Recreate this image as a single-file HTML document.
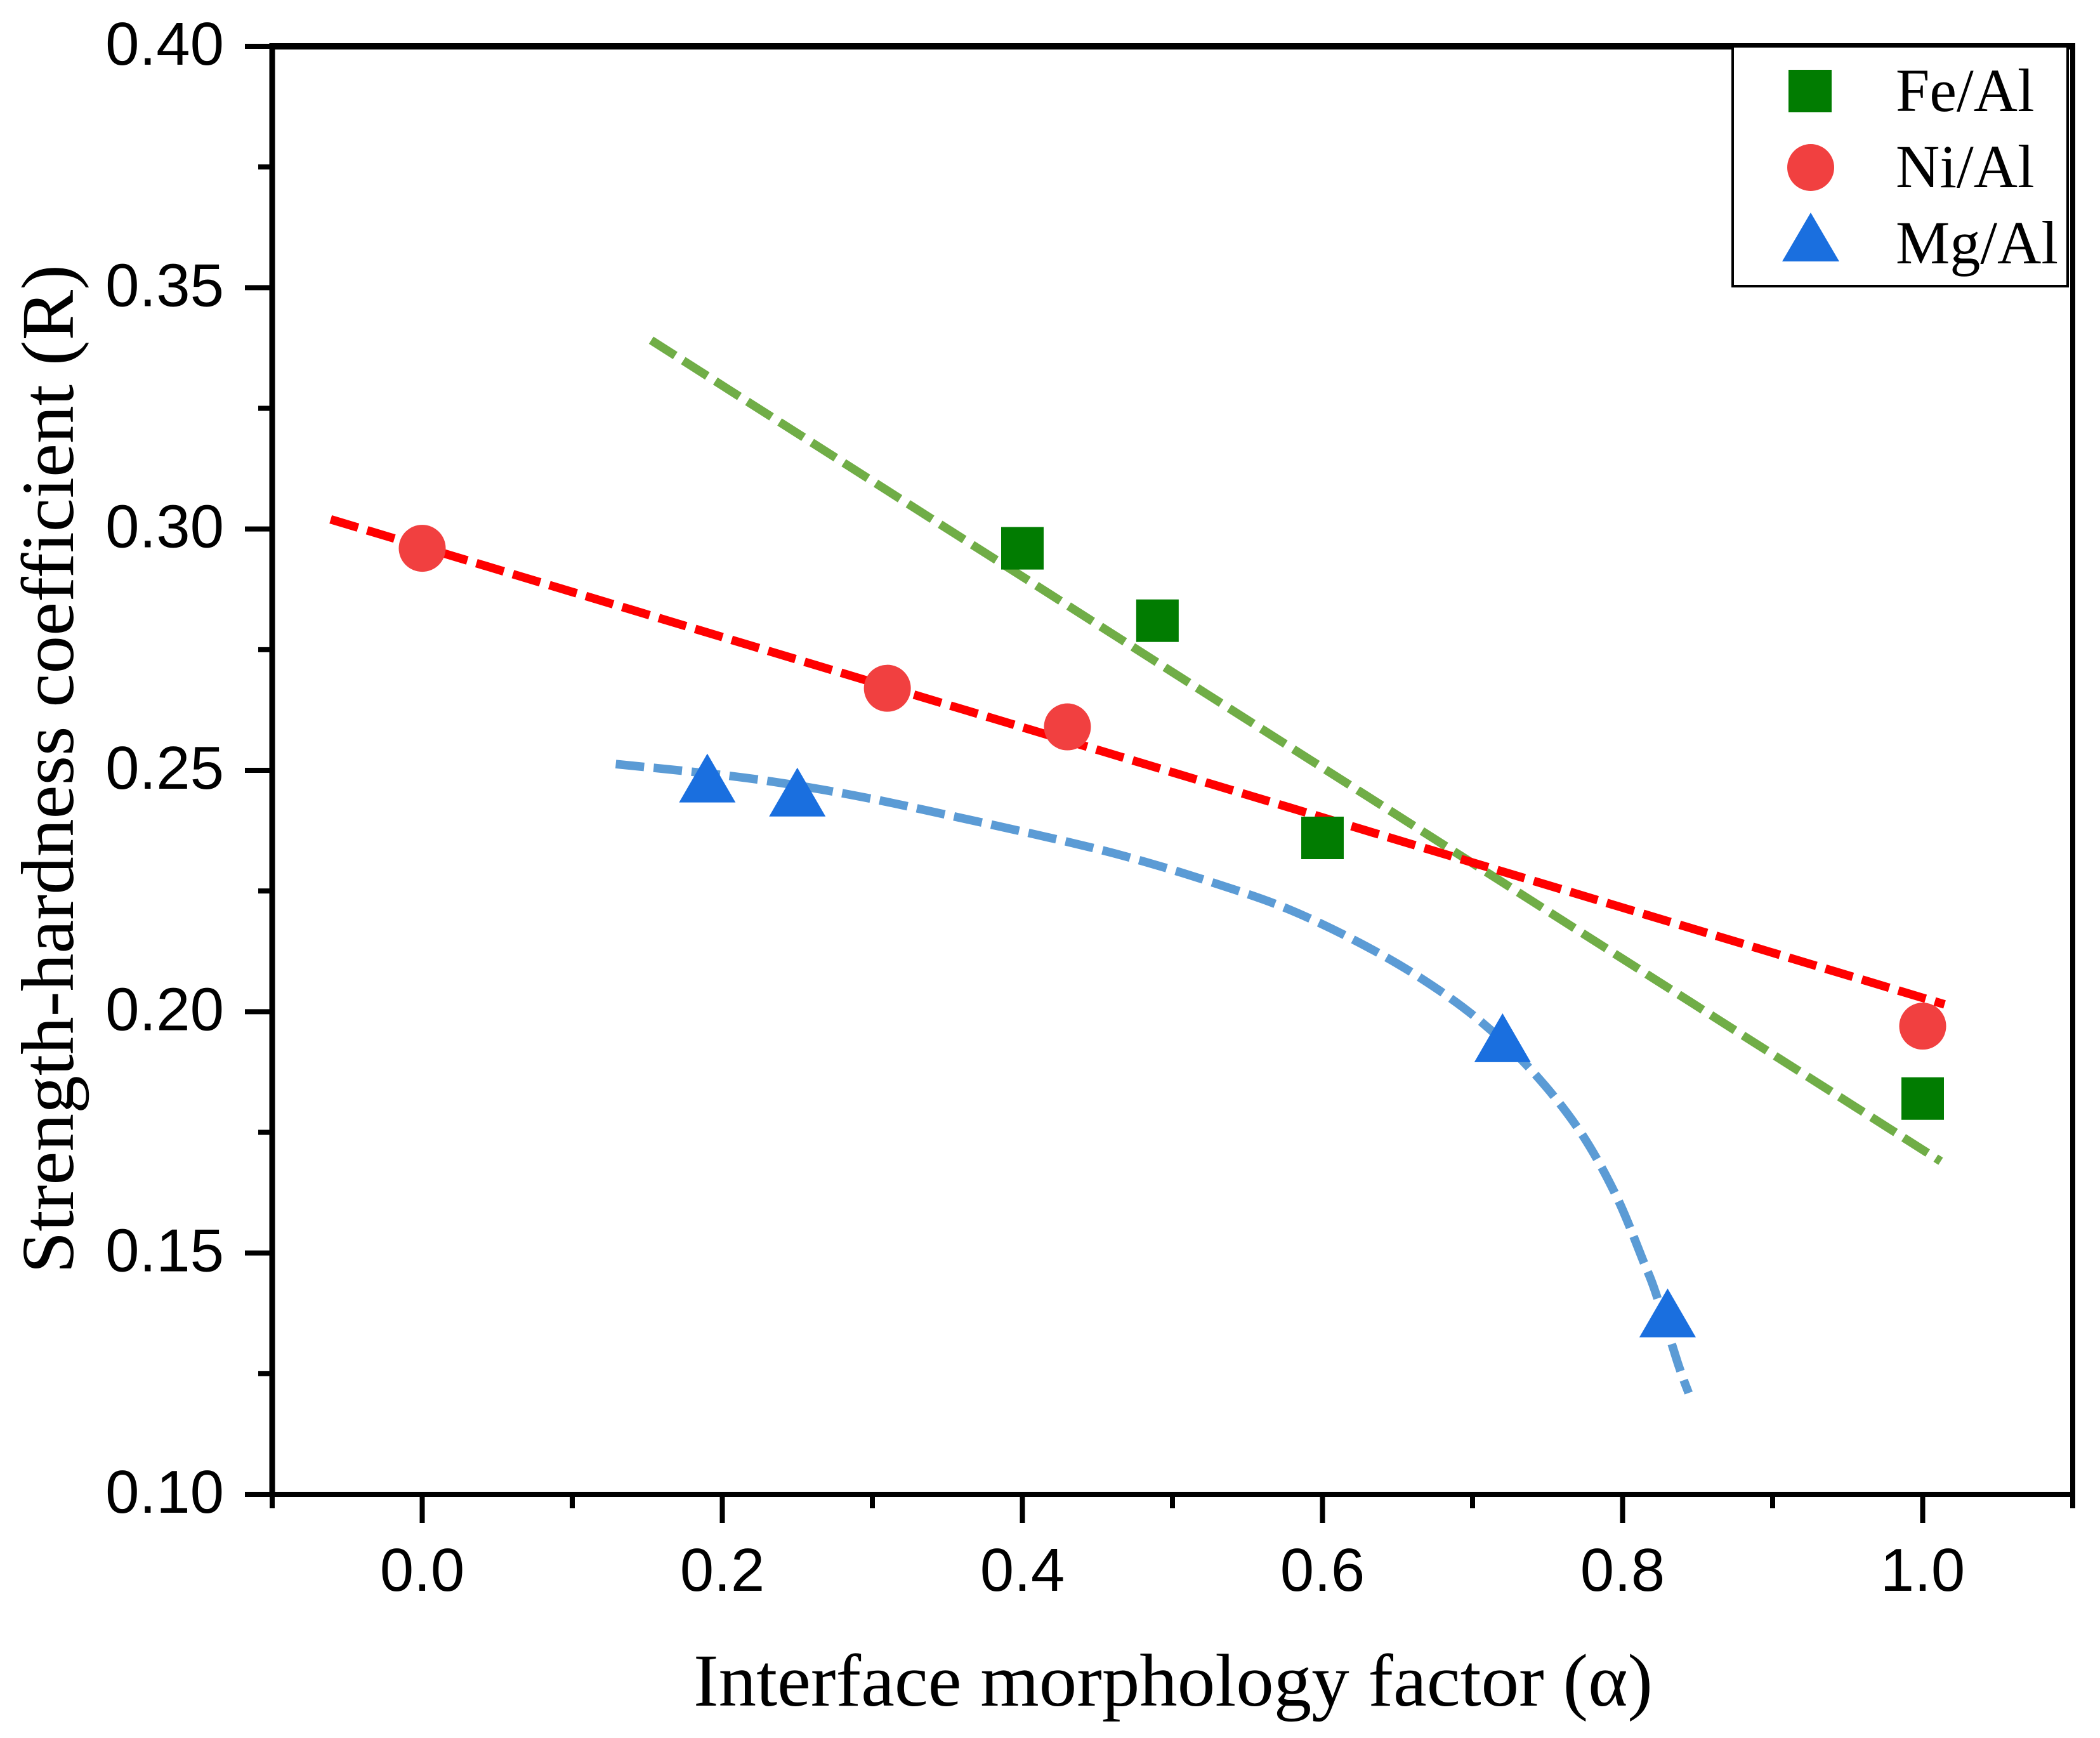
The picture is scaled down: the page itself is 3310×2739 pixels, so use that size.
<!DOCTYPE html>
<html lang="en">
<head>
<meta charset="utf-8">
<title>Strength-hardness coefficient vs interface morphology factor</title>
<style>
html,body{margin:0;padding:0;background:#fff;}
svg{display:block;}
.num{font-family:"Liberation Sans",sans-serif;font-size:96px;fill:#000;}
.ser{font-family:"Liberation Serif",serif;fill:#000;}
</style>
</head>
<body>
<svg id="chart" xmlns="http://www.w3.org/2000/svg" width="3310" height="2739" viewBox="0 0 3310 2739">
<rect x="0" y="0" width="3310" height="2739" fill="#fff"/>
<g id="lines"></g>
<g id="markers"></g>
<g id="axes"></g>
<text class="ser" x="1093" y="2688" font-size="118" textLength="1512" lengthAdjust="spacingAndGlyphs">Interface morphology factor (α)</text>
<text class="ser" transform="translate(115,2007) rotate(-90)" x="0" y="0" font-size="118" textLength="1590" lengthAdjust="spacingAndGlyphs">Strength-hardness coefficient (R)</text>
<g>
<rect x="2745" y="73" width="528" height="378" fill="#fff" stroke="#000" stroke-width="4" transform="translate(-14,0)"/>
<rect x="2819" y="110" width="68" height="67" fill="#017c01"/>
<circle cx="2854" cy="264" r="37" fill="#f14040"/>
<polygon points="2854,335 2899,412 2809,412" fill="#1a6fdf"/>
<text class="ser" x="2988" y="175" font-size="96">Fe/Al</text>
<text class="ser" x="2988" y="295" font-size="96">Ni/Al</text>
<text class="ser" x="2988" y="415" font-size="96">Mg/Al</text>
</g>
</svg>
<script>
const xTickValues = [0.0, 0.2, 0.4, 0.6, 0.8, 1.0];
const xTickLabels = ["0.0", "0.2", "0.4", "0.6", "0.8", "1.0"];
const xMinorValues = [-0.1, 0.1, 0.3, 0.5, 0.7, 0.9, 1.1];
const yTickValues = [0.10, 0.15, 0.20, 0.25, 0.30, 0.35, 0.40];
const yTickLabels = ["0.10", "0.15", "0.20", "0.25", "0.30", "0.35", "0.40"];
const yMinorValues = [0.125, 0.175, 0.225, 0.275, 0.325, 0.375];

const feAlX = [0.40, 0.49, 0.60, 1.00];
const feAlY = [0.296, 0.281, 0.236, 0.182];
const niAlX = [0.00, 0.31, 0.43, 1.00];
const niAlY = [0.296, 0.267, 0.259, 0.197];
const mgAlX = [0.19, 0.25, 0.72, 0.83];
const mgAlY = [0.2484, 0.2455, 0.1946, 0.1376];

const feFitX = [0.1526, 1.012];
const feFitY = [0.3391, 0.169];
const niFitX = [-0.061, 1.0146];
const niFitY = [0.302, 0.2015];
const mgFitX = [0.129, 0.2165, 0.288, 0.358, 0.434, 0.4799, 0.5283, 0.5744, 0.6201, 0.6632, 0.7042, 0.7397, 0.7710, 0.7955, 0.8141, 0.8220, 0.8368, 0.844];
const mgFitY = [0.2513, 0.2484, 0.2448, 0.2402, 0.2349, 0.2312, 0.2266, 0.2216, 0.2150, 0.2074, 0.1983, 0.1877, 0.1755, 0.1620, 0.1481, 0.1418, 0.1272, 0.121];

const NS = "http://www.w3.org/2000/svg";
const plotLeft = 429, plotRight = 3267, plotTop = 73, plotBottom = 2355;
const xMin = -0.1, xMax = 1.1, yMin = 0.10, yMax = 0.40;
function xScale(v) { return plotLeft + (v - xMin) / (xMax - xMin) * (plotRight - plotLeft); }
function yScale(v) { return plotBottom - (v - yMin) / (yMax - yMin) * (plotBottom - plotTop); }
function make(tag, attrs, parent) {
  const el = document.createElementNS(NS, tag);
  for (const k in attrs) el.setAttribute(k, attrs[k]);
  parent.appendChild(el);
  return el;
}
const axes = document.getElementById("axes");
const lines = document.getElementById("lines");
const markers = document.getElementById("markers");

function smoothPath(xs, ys) {
  const p = xs.map((x, i) => [xScale(x), yScale(ys[i])]);
  let d = "M" + p[0][0].toFixed(1) + " " + p[0][1].toFixed(1);
  for (let i = 0; i < p.length - 1; i++) {
    const a = p[Math.max(i - 1, 0)], b = p[i], c = p[i + 1], e = p[Math.min(i + 2, p.length - 1)];
    const c1x = b[0] + (c[0] - a[0]) / 6, c1y = b[1] + (c[1] - a[1]) / 6;
    const c2x = c[0] - (e[0] - b[0]) / 6, c2y = c[1] - (e[1] - b[1]) / 6;
    d += "C" + c1x.toFixed(1) + " " + c1y.toFixed(1) + " " + c2x.toFixed(1) + " " + c2y.toFixed(1) + " " + c[0].toFixed(1) + " " + c[1].toFixed(1);
  }
  return d;
}
function drawFit(xs, ys, color, name) {
  const el = make("path", { d: smoothPath(xs, ys), fill: "none", stroke: color, "stroke-width": 13.5, "stroke-dasharray": "45 15" }, lines);
  
  
}
drawFit(feFitX, feFitY, "#70ad47", "fe-al-fit-line");
drawFit(niFitX, niFitY, "#ff0000", "ni-al-fit-line");
drawFit(mgFitX, mgFitY, "#5b9bd5", "mg-al-fit-line");

feAlX.forEach((x, i) => {
  const cx = xScale(x), cy = yScale(feAlY[i]);
  const el = make("rect", { x: cx - 33.5, y: cy - 33.5, width: 67, height: 67, fill: "#017c01" }, markers);
  
  
});
niAlX.forEach((x, i) => {
  const el = make("circle", { cx: xScale(x), cy: yScale(niAlY[i]), r: 37, fill: "#f14040" }, markers);
  
  
});
mgAlX.forEach((x, i) => {
  const cx = xScale(x), cy = yScale(mgAlY[i]);
  const pts = [cx, cy - 38.5, cx + 44.5, cy + 38.5, cx - 44.5, cy + 38.5].join(" ");
  const el = make("polygon", { points: pts, fill: "#1a6fdf" }, markers);
  
  
});

const leftSpine = make("line", { x1: plotLeft, y1: plotTop - 5, x2: plotLeft, y2: plotBottom, stroke: "#000", "stroke-width": 9 }, axes);


const rightSpine = make("line", { x1: plotRight, y1: plotTop - 5, x2: plotRight, y2: plotBottom, stroke: "#000", "stroke-width": 8 }, axes);


const topSpine = make("line", { x1: plotLeft, y1: plotTop, x2: plotRight + 4, y2: plotTop, stroke: "#000", "stroke-width": 10 }, axes);


const bottomSpine = make("line", { x1: plotLeft, y1: plotBottom, x2: plotRight + 4, y2: plotBottom, stroke: "#000", "stroke-width": 8 }, axes);



xTickValues.forEach((v, i) => {
  const x = xScale(v);
  const t = make("line", { x1: x, y1: plotBottom, x2: x, y2: plotBottom + 45, stroke: "#000", "stroke-width": 8 }, axes);
  
  
  const l = make("text", { x: x, y: 2507, "text-anchor": "middle", class: "num" }, axes);
  l.textContent = xTickLabels[i];
  
  
});
xMinorValues.forEach(v => {
  const x = xScale(v);
  const t = make("line", { x1: x, y1: plotBottom, x2: x, y2: plotBottom + 22, stroke: "#000", "stroke-width": 8 }, axes);
  
  
});
yTickValues.forEach((v, i) => {
  const y = yScale(v);
  const t = make("line", { x1: plotLeft - 43, y1: y, x2: plotLeft, y2: y, stroke: "#000", "stroke-width": 8 }, axes);
  
  
  const l = make("text", { x: 353, y: y + 29, "text-anchor": "end", class: "num" }, axes);
  l.textContent = yTickLabels[i];
  
  
});
yMinorValues.forEach(v => {
  const y = yScale(v);
  const t = make("line", { x1: plotLeft - 22, y1: y, x2: plotLeft, y2: y, stroke: "#000", "stroke-width": 8 }, axes);
  
  
});
</script>
</body>
</html>
